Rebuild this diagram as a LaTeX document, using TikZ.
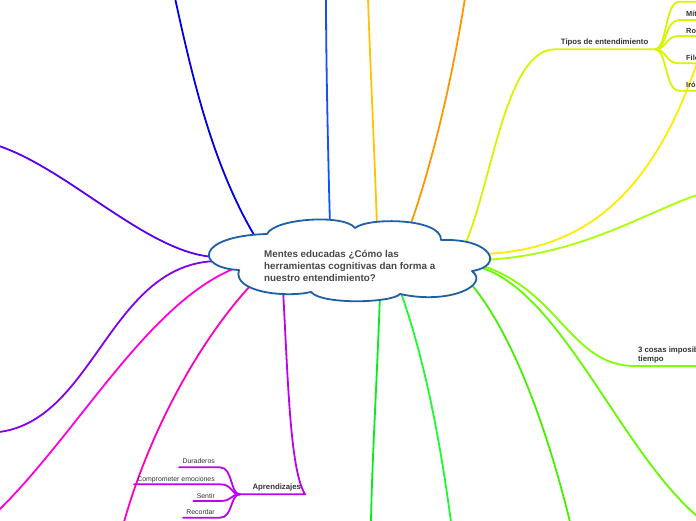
\documentclass[tikz,border=0pt]{standalone}
\usepackage{fontspec}
\setmainfont{Liberation Sans}
\definecolor{cloudblue}{RGB}{30,95,165}
\definecolor{txt}{RGB}{72,72,72}
\definecolor{txtb}{RGB}{51,51,51}
\definecolor{cA}{RGB}{90,0,240}
\definecolor{cB}{RGB}{0,0,230}
\definecolor{cC}{RGB}{20,80,255}
\definecolor{cD}{RGB}{255,196,0}
\definecolor{cE}{RGB}{255,150,0}
\definecolor{cF}{RGB}{215,245,0}
\definecolor{cG}{RGB}{255,236,0}
\definecolor{cH}{RGB}{170,255,0}
\definecolor{cI}{RGB}{130,255,0}
\definecolor{cJ}{RGB}{100,250,0}
\definecolor{cK}{RGB}{70,240,0}
\definecolor{cL}{RGB}{30,250,50}
\definecolor{cM}{RGB}{10,235,30}
\definecolor{cN}{RGB}{190,0,240}
\definecolor{cO}{RGB}{255,0,190}
\definecolor{cP}{RGB}{255,0,225}
\definecolor{cQ}{RGB}{130,0,235}
\begin{document}
\begin{tikzpicture}[x=1pt,y=-1pt,
  conn/.style={line width=1.8pt, line cap=round},
  ctext/.style={font=\fontsize{9.8}{11.8}\selectfont\bfseries, text=txt, inner sep=0pt, anchor=base west},
  btext/.style={font=\fontsize{7.8}{9.5}\selectfont\bfseries, text=txtb, inner sep=0pt, anchor=base west},
  stext/.style={font=\fontsize{6.9}{8}\selectfont, text=txtb, inner sep=0pt, anchor=base east},
]
\useasboundingbox (0,0) rectangle (696,520);
\clip (0,0) rectangle (696,520);
% cloud exit points
\coordinate (o1) at (257,240);
\coordinate (o2) at (330,226);
\coordinate (o3) at (377,226);
\coordinate (o4) at (409,229);
\coordinate (o5) at (464,247);
\coordinate (o6) at (484,254);
\coordinate (o7) at (484,260);
\coordinate (o8) at (480,265);
\coordinate (o9) at (479,267);
\coordinate (o10) at (471,284);
\coordinate (o11) at (400,290);
\coordinate (o12) at (380,294);
\coordinate (o13) at (283,289);
\coordinate (o14) at (251,285);
\coordinate (o15) at (238,267);
\coordinate (o16) at (218,261);
\coordinate (o17) at (216,257);
% far ends
\coordinate (e1) at (175,-2);
\coordinate (e2) at (326,-2);
\coordinate (e3) at (368,-2);
\coordinate (e4) at (465,-2);
\coordinate (e6) at (697,63);
\coordinate (e7) at (697,195);
\coordinate (e9) at (697,516);
\coordinate (e10) at (570,522);
\coordinate (e11) at (451,522);
\coordinate (e12) at (371,522);
\coordinate (e14) at (124,522);
\coordinate (e15) at (-1,510);
\coordinate (e16) at (-1,432);
\coordinate (e17) at (-1,146);
% main connectors
\draw[conn,cB] (o1) .. controls (215,170) and (195,90) .. (e1);
\draw[conn,cC] (o2) .. controls (328,150) and (326,60) .. (e2);
\draw[conn,cD] (o3) .. controls (374,140) and (370,60) .. (e3);
\draw[conn,cE] (o4) .. controls (432,165) and (452,80) .. (e4);
\draw[conn,cG] (o6) .. controls (580,250) and (650,200) .. (e6);
\draw[conn,cH] (o7) .. controls (580,255) and (640,215) .. (e7);
\draw[conn,cJ] (o9) .. controls (560,290) and (620,450) .. (e9);
\draw[conn,cK] (o10) .. controls (510,330) and (545,420) .. (e10);
\draw[conn,cL] (o11) .. controls (425,360) and (440,440) .. (e11);
\draw[conn,cM] (o12) .. controls (377,380) and (372,460) .. (e12);
\draw[conn,cO] (o14) .. controls (200,340) and (150,430) .. (e14);
\draw[conn,cP] (o15) .. controls (150,300) and (80,430) .. (e15);
\draw[conn,cQ] (o16) .. controls (110,262) and (95,420) .. (e16);
\draw[conn,cA] (o17) .. controls (150,255) and (70,170) .. (e17);
% Tipos de entendimiento
\node[btext] (tipos) at (560.7,44.5) {Tipos de entendimiento};
\coordinate (tl) at (555,49.3);
\coordinate (tr) at (655,49.3);
\draw[conn,cF] (o5) .. controls (492,185) and (505,49.3) .. (tl) -- (tr);
\foreach \yy/\nm in {1.7/t0,20/t1,36/t2,63.3/t3,90.7/t4}{
  \coordinate (\nm) at (699,\yy);
  \draw[conn,cF] (tr) .. controls (667,49.3) and (665,\yy) .. (679,\yy) -- (\nm);
}
\node[btext,font=\fontsize{7.4}{9}\selectfont\bfseries] (mit) at (686,16) {Mítica};
\node[btext,font=\fontsize{7.4}{9}\selectfont\bfseries] (rom) at (686,33.5) {Romántica};
\node[btext,font=\fontsize{7.4}{9}\selectfont\bfseries] (fil) at (686,60) {Filosófica};
\node[btext,font=\fontsize{7.4}{9}\selectfont\bfseries] (iro) at (686,87.5) {Irónica};
% 3 cosas
\coordinate (c3l) at (635,366);
\coordinate (c3r) at (699,366);
\draw[conn,cI] (o8) .. controls (560,290) and (570,366) .. (c3l) -- (c3r);
\node[btext] (tres1) at (637.8,352) {3 cosas imposibles al mismo};
\node[btext] (tres2) at (637.8,361.5) {tiempo};
% Aprendizajes
\coordinate (ar) at (305,494.3);
\coordinate (aj) at (240,494.3);
\draw[conn,cN] (o13) .. controls (288,380) and (290,470) .. (ar) -- (aj);
\node[btext] (apr) at (252.3,489.5) {Aprendizajes};
\foreach \yy/\xl/\nm in {467.3/179/d1,484.3/134/d2,501/193.5/d3,517.7/183/d4}{
  \coordinate (\nm) at (\xl,\yy);
  \draw[conn,cN] (aj) .. controls (230,494.3) and (233,\yy) .. (220,\yy) -- (\nm);
}
\node[stext] (dur) at (215,463.5) {Duraderos};
\node[stext] (com) at (215,481) {Comprometer emociones};
\node[stext] (sen) at (215,498) {Sentir};
\node[stext] (rec) at (215,514.5) {Recordar};
% central cloud
\draw[line width=1.8pt, cloudblue, fill=white, line join=round]
  (267,234) .. controls (275,218) and (345,214) .. (355,228)
  .. controls (368,217) and (442,218) .. (441,240)
  .. controls (492,238) and (505,266) .. (472,271)
  .. controls (490,285) and (450,305) .. (400,294)
  .. controls (392,303) and (322,305) .. (311,292)
  .. controls (285,298) and (232,292) .. (239,270)
  .. controls (195,268) and (195,236) .. cycle;
\node[ctext] (c1) at (264,257.5) {Mentes educadas ¿Cómo las};
\node[ctext] (c2) at (264,269.3) {herramientas cognitivas dan forma a};
\node[ctext] (c3) at (264,281) {nuestro entendimiento?};
\end{tikzpicture}
\end{document}
